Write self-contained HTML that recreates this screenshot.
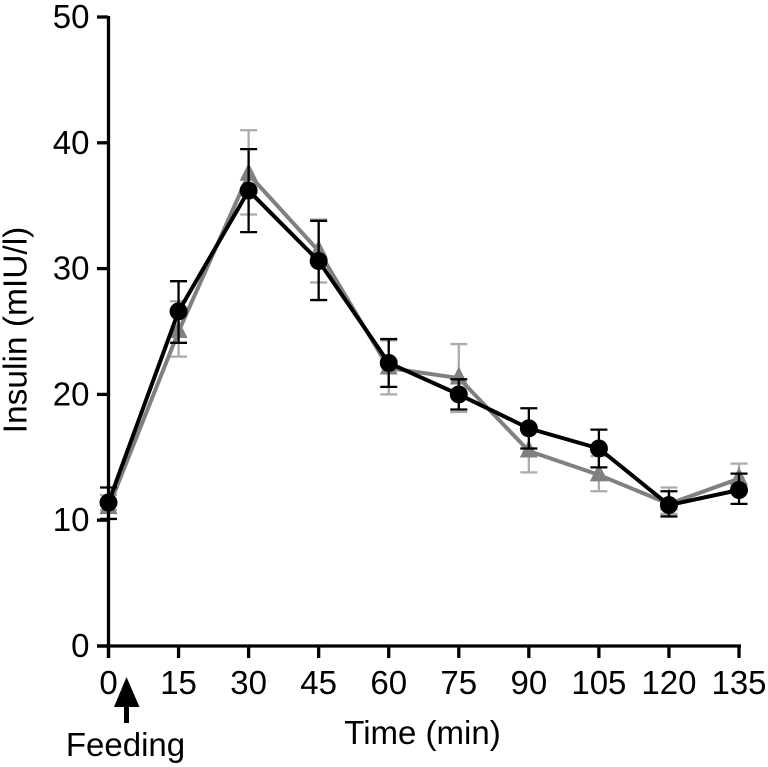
<!DOCTYPE html>
<html>
<head>
<meta charset="utf-8">
<style>
html,body{margin:0;padding:0;background:#fff;width:768px;height:767px;overflow:hidden}
svg{display:block}
text{font-family:"Liberation Sans",sans-serif;font-size:33px;fill:#000}
</style>
</head>
<body>
<svg id="chart" width="768" height="767" viewBox="0 0 768 767" xmlns="http://www.w3.org/2000/svg">
<text transform="translate(26.500,330) rotate(-90)" text-anchor="middle" style="font-size:33.500px">Insulin (mIU/l)</text>
<text x="422.500" y="744" text-anchor="middle">Time (min)</text>
<text x="125.500" y="756" text-anchor="middle">Feeding</text>
<path d="M126.500 677L139.500 707H129V723H124V707H114Z" fill="#000"/>
</svg>
<script>
var xTicks = [0, 15, 30, 45, 60, 75, 90, 105, 120, 135];
var yTicks = [0, 10, 20, 30, 40, 50];
var times = [0, 15, 30, 45, 60, 75, 90, 105, 120, 135];
var grayValues = [11.0, 25.0, 37.5, 31.4, 22.1, 21.3, 15.5, 13.6, 11.3, 13.3];
var grayUpper = [12.0, 27.4, 41.0, 33.9, 24.3, 24.0, 15.7, 15.1, 12.6, 14.5];
var grayLower = [10.8, 23.0, 34.3, 28.9, 20.0, 18.6, 13.8, 12.3, 10.5, 12.2];
var blackValues = [11.4, 26.6, 36.2, 30.6, 22.5, 20.0, 17.3, 15.7, 11.2, 12.4];
var blackUpper = [12.6, 29.0, 39.5, 33.8, 24.4, 21.2, 18.9, 17.2, 12.3, 13.7];
var blackLower = [10.1, 24.1, 32.9, 27.5, 20.6, 18.8, 15.7, 14.2, 10.3, 11.3];

var svg = document.getElementById('chart');
var NS = 'http://www.w3.org/2000/svg';
function xScale(t){ return 108.5 + t * (630.5 / 135); }
function yScale(v){ return 646 - v * (629 / 50); }
function make(tag, attrs){
  var el = document.createElementNS(NS, tag);
  for (var k in attrs) el.setAttribute(k, attrs[k]);
  svg.appendChild(el);
  return el;
}
function drawSeries(name, values, upper, lower, lineColor, barColor, shape){
  var i;
  for (i = 0; i < times.length; i++) {
    var x = xScale(times[i]);
    var bar = make('path', {d: 'M' + x + ' ' + yScale(upper[i]) + 'V' + yScale(lower[i]) +
      'M' + (x - 8.5) + ' ' + yScale(upper[i]) + 'H' + (x + 8.5) +
      'M' + (x - 8.5) + ' ' + yScale(lower[i]) + 'H' + (x + 8.5),
      stroke: barColor, 'stroke-width': 2.3, fill: 'none'});
    
    
  }
  var pts = times.map(function(t, j){ return xScale(t) + ',' + yScale(values[j]); }).join(' ');
  var line = make('polyline', {points: pts, fill: 'none', stroke: lineColor, 'stroke-width': 4, 'stroke-linejoin': 'round'});
  
  
  for (i = 0; i < times.length; i++) {
    var px = xScale(times[i]), py = yScale(values[i]), m;
    if (shape === 'circle') {
      m = make('circle', {cx: px, cy: py, r: 9, fill: lineColor});
    } else {
      m = make('path', {d: 'M' + px + ' ' + (py - 11.5) + 'L' + (px + 9) + ' ' + (py + 6.5) + 'H' + (px - 9) + 'Z', fill: lineColor});
    }
    
    
  }
}
drawSeries('gray-series', grayValues, grayUpper, grayLower, '#808080', '#ababab', 'triangle');
drawSeries('black-series', blackValues, blackUpper, blackLower, '#000000', '#000000', 'circle');

var yAxis = make('path', {d: 'M108.500 16V658', stroke: '#000', 'stroke-width': 3.3, fill: 'none'});


var xAxis = make('path', {d: 'M97 646H741', stroke: '#000', 'stroke-width': 3.3, fill: 'none'});



yTicks.forEach(function(v){
  var tick = make('path', {d: 'M97 ' + yScale(v) + 'H108', stroke: '#000', 'stroke-width': 3.3});
  
  
  var label = make('text', {x: 89.5, y: yScale(v) + 11, 'text-anchor': 'end'});
  label.textContent = v;
  
  
});
xTicks.forEach(function(t){
  var tick = make('path', {d: 'M' + xScale(t) + ' 646V658', stroke: '#000', 'stroke-width': 3.3});
  
  
  var label = make('text', {x: xScale(t), y: 694, 'text-anchor': 'middle'});
  label.textContent = t;
  
  
});
</script>
</body>
</html>
